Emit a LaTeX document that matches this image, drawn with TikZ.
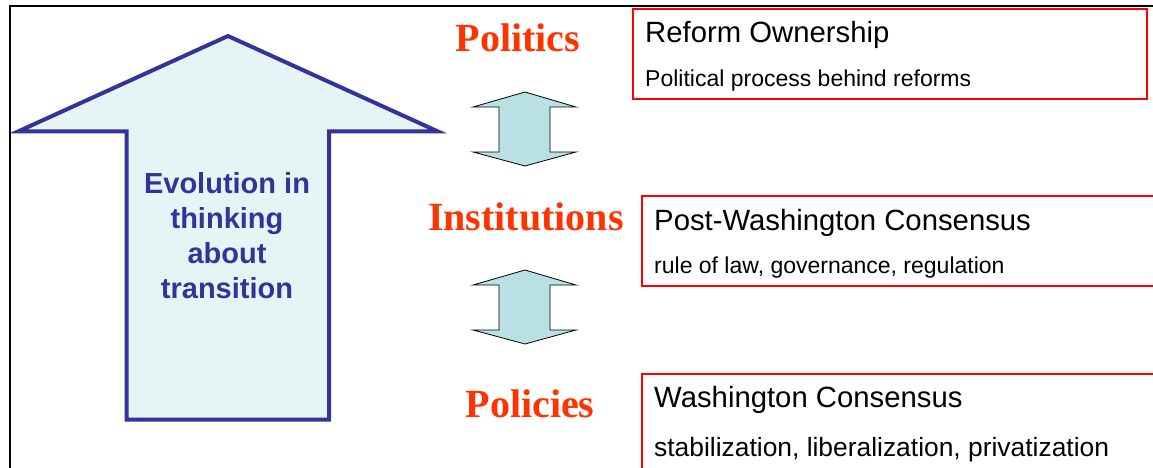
\documentclass[tikz,border=0pt]{standalone}
\usepackage{fontspec}
\setmainfont{Liberation Sans}
\newfontfamily\serifface{Liberation Serif}
\definecolor{navy}{HTML}{333399}
\definecolor{paleblue}{HTML}{E6F4F5}
\definecolor{tealfill}{HTML}{B9E0E3}
\definecolor{labelred}{HTML}{FF3300}
\definecolor{boxred}{HTML}{FF0000}

\begin{document}
\begin{tikzpicture}[x=1pt,y=-1pt,
  level/.style={text=labelred,anchor=base,inner sep=0pt,
    font=\serifface\bfseries\fontsize{40}{48}\selectfont},
  framebox/.style={draw=boxred,line width=1.5pt,anchor=north west,
    inner sep=0pt,minimum height=90pt},
  headline/.style={anchor=base west,inner sep=0pt,
    font=\fontsize{29.3}{35}\selectfont},
  subline/.style={anchor=base west,inner sep=0pt,
    font=\fontsize{23}{28}\selectfont}]
  \useasboundingbox (0,0) rectangle (1153,468);
  % frame
  \draw[line width=2pt] (10,470) -- (10,6.5) -- (1155,6.5);
  % big arrow
  \draw[navy,fill=paleblue,line width=4pt,miter limit=20]
    (126.5,419.5) -- (126.5,131.5) -- (18,131.5) -- (228,36) -- (438,131.5)
    -- (329,131.5) -- (329,419.5) -- cycle;
  \node[navy,align=center,inner sep=0pt,
    font=\bfseries\fontsize{29}{35}\selectfont] (evol) at (227,236)
    {Evolution in\\thinking\\about\\transition};
  % levels
  \node[level] (pol) at (518,52) {Politics};
  \node[level] (ins) at (526,230) {Institutions};
  \node[level] (poc) at (530,417) {Policies};
  % double arrows
  \foreach \y in {92,270}
    \draw[fill=tealfill,line width=0.8pt]
      (525,\y) -- (576,\y+15) -- (550,\y+15) -- (550,\y+60) -- (576,\y+60)
      -- (525,\y+74) -- (473,\y+60) -- (499,\y+60) -- (499,\y+15)
      -- (473,\y+15) -- cycle;
  % boxes
  \node[framebox,minimum width=514pt] (own) at (632,8.5) {};
  \node[framebox,minimum width=530pt] (pwc) at (641,195) {};
  \node[framebox,minimum width=530pt,minimum height=120pt] (wc) at (641,373) {};
  \node[headline] (ownA) at (645,43) {Reform Ownership};
  \node[subline] (ownB) at (645,87) {Political process behind reforms};
  \node[headline] (pwcA) at (654,230) {Post-Washington Consensus};
  \node[subline] (pwcB) at (654,273) {rule of law, governance, regulation};
  \node[headline] (wcA) at (654,407) {Washington Consensus};
  \node[subline,font=\fontsize{26.4}{32}\selectfont] (wcB) at (654,456)
    {stabilization, liberalization, privatization};
\end{tikzpicture}
\end{document}
